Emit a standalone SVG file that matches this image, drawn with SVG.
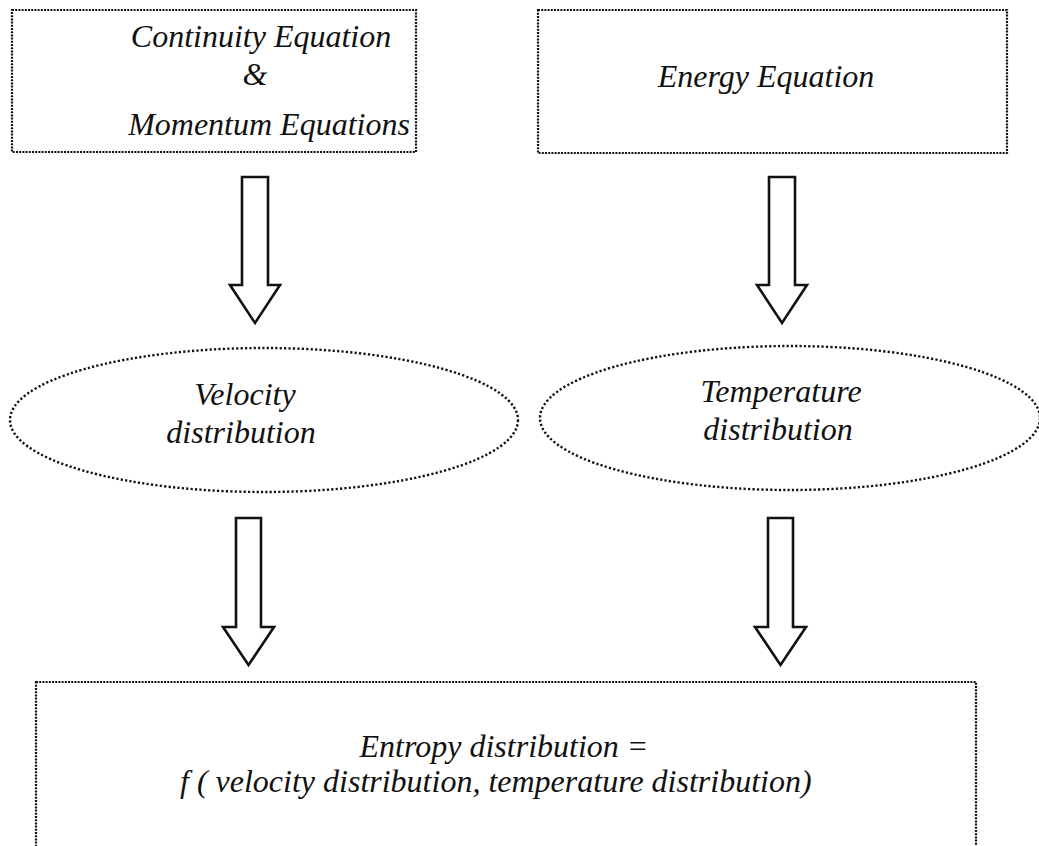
<svg xmlns="http://www.w3.org/2000/svg" width="1039" height="846" viewBox="0 0 1039 846">
<style>
.bg{fill:#ffffff}
.box{fill:none;stroke:#111;stroke-width:2.2;stroke-dasharray:2 1.2}
.ell{fill:none;stroke:#111;stroke-width:2.4;stroke-dasharray:2.2 2.2}
.arrow{fill:#ffffff;stroke:#111;stroke-width:2.6;stroke-linejoin:miter}
.t{font-style:italic;font-size:32px;fill:#111;text-anchor:middle}
.ts{text-anchor:start}
</style>
<rect class="bg" x="0" y="0" width="1039" height="846"/>
<g font-family="Liberation Serif, DejaVu Serif, serif">
<g id="node-continuity-momentum">
<rect class="box" x="12" y="10" width="404" height="142"/>
<text class="t" x="261" y="47">Continuity Equation</text>
<text class="t" x="255" y="85">&amp;</text>
<text class="t" x="269" y="135">Momentum Equations</text>
</g>
<g id="node-energy">
<rect class="box" x="538" y="10" width="469" height="143"/>
<text class="t" x="766" y="87">Energy Equation</text>
</g>
<g id="node-velocity">
<ellipse class="ell" cx="264" cy="420" rx="254" ry="72"/>
<text class="t" x="245" y="405">Velocity</text>
<text class="t" x="241" y="443">distribution</text>
</g>
<g id="node-temperature">
<ellipse class="ell" cx="790" cy="418" rx="250" ry="72"/>
<text class="t" x="781" y="402">Temperature</text>
<text class="t" x="778" y="440">distribution</text>
</g>
<g id="node-entropy">
<rect class="box" x="36" y="682" width="940" height="200"/>
<text class="t" x="504" y="757">Entropy distribution =</text>
<text class="t ts" x="180" y="792">f ( velocity distribution, temperature distribution)</text>
</g>
</g>
<g id="connectors">
<polygon class="arrow" points="242,177 268,177 268,285 280,285 255,323 230,285 242,285"/>
<polygon class="arrow" points="769,177 795,177 795,285 807,285 782,323 757,285 769,285"/>
<polygon class="arrow" points="236,518 261,518 261,627 274,627 248.5,665 223,627 236,627"/>
<polygon class="arrow" points="768,518 793,518 793,627 806,627 780.5,665 755,627 768,627"/>
</g>
</svg>
